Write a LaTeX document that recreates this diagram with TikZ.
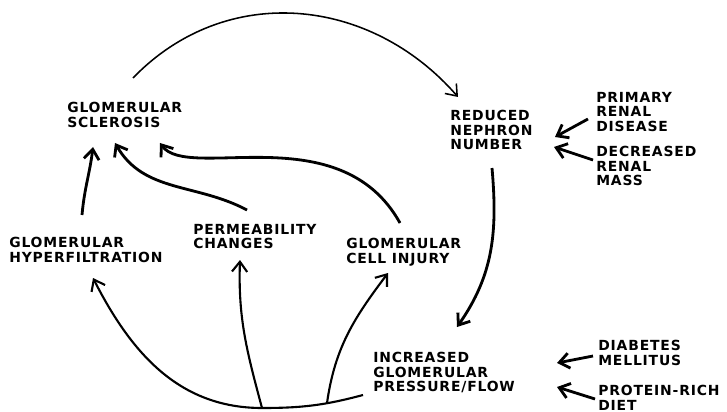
\documentclass[tikz,border=0pt]{standalone}
\usepackage{fontspec}
\newfontfamily\lblfont{DejaVu Sans}[LetterSpace=6]
\usetikzlibrary{arrows.meta,calc}

\begin{document}
\begin{tikzpicture}[x=0.025cm, y=0.025cm, >={Straight Barb[length=2.5mm,width=3.8mm]},
    lbl/.style={anchor=north west, inner sep=0pt, align=left,
                font=\lblfont\bfseries\fontsize{9.9}{10.3}\selectfont},
    thin/.style={line width=1.1pt}, med/.style={line width=1.5pt}, heavy/.style={line width=2pt}]
  \useasboundingbox (0,0) rectangle (727,-412);

  \node[lbl] at (67,-102) (scler) {GLOMERULAR\\SCLEROSIS};
  \node[lbl] at (450,-110) (reduced) {REDUCED\\NEPHRON\\NUMBER};
  \node[lbl] at (596,-92) (primary) {PRIMARY\\RENAL\\DISEASE};
  \node[lbl] at (596,-146) (decreased) {DECREASED\\RENAL\\MASS};

  \node[lbl] at (9,-237) (hyper) {GLOMERULAR\\HYPERFILTRATION};
  \node[lbl] at (193,-224) (perm) {PERMEABILITY\\CHANGES};
  \node[lbl] at (346,-238) (injury) {GLOMERULAR\\CELL INJURY};

  \node[lbl] at (373,-352) (increased) {INCREASED\\GLOMERULAR\\PRESSURE/FLOW};
  \node[lbl] at (598,-340) (diabetes) {DIABETES\\MELLITUS};
  \node[lbl] at (598,-385) (protein) {PROTEIN-RICH\\DIET};

  \draw[->, thin] ($(scler.north west)+(66,24)$) to[out=46, in=131, looseness=1.05]
    ($(reduced.north west)+(8,13)$);
  \draw[->, heavy] ($(reduced.north west)+(42,-58)$) to[out=-85, in=55]
    ($(increased.north west)+(84,25)$);

  \coordinate (base) at ($(increased.north west)+(-111,-56)$);
  \draw[->, med] ($(increased.north west)+(-10,-43)$) to[out=195, in=0] coordinate[pos=0.35] (fork)
    (base) to[out=180, in=-63] ($(hyper.north west)+(84,-41)$);
  \draw[->, med] (base) to[out=105, in=-92] ($(perm.north west)+(47,-36)$);
  \draw[->, med] (fork) to[out=82, in=-127] ($(injury.north west)+(42,-35)$);

  \draw[->, heavy] ($(hyper.north west)+(73,22)$) to[out=85, in=-97]
    ($(scler.north west)+(26,-45)$);
  \draw[->, heavy] ($(perm.north west)+(54,14)$) to[out=152, in=-60]
    ($(scler.north west)+(48,-41)$);
  \draw[->, heavy] ($(injury.north west)+(54,15)$) .. controls +(-60,108) and +(28,-39) ..
    ($(scler.north west)+(93,-41)$);

  \draw[->, heavy] ($(primary.north west)+(-8,-27)$) -- ($(reduced.north west)+(105,-27)$);
  \draw[->, heavy] ($(decreased.north west)+(-3,-14)$) -- ($(reduced.north west)+(104,-37)$);
  \draw[->, heavy] ($(diabetes.north west)+(-5,-16)$) -- ($(increased.north west)+(184,-11)$);
  \draw[->, heavy] ($(protein.north west)+(-3,-14)$) -- ($(increased.north west)+(184,-35)$);
\end{tikzpicture}
\end{document}
